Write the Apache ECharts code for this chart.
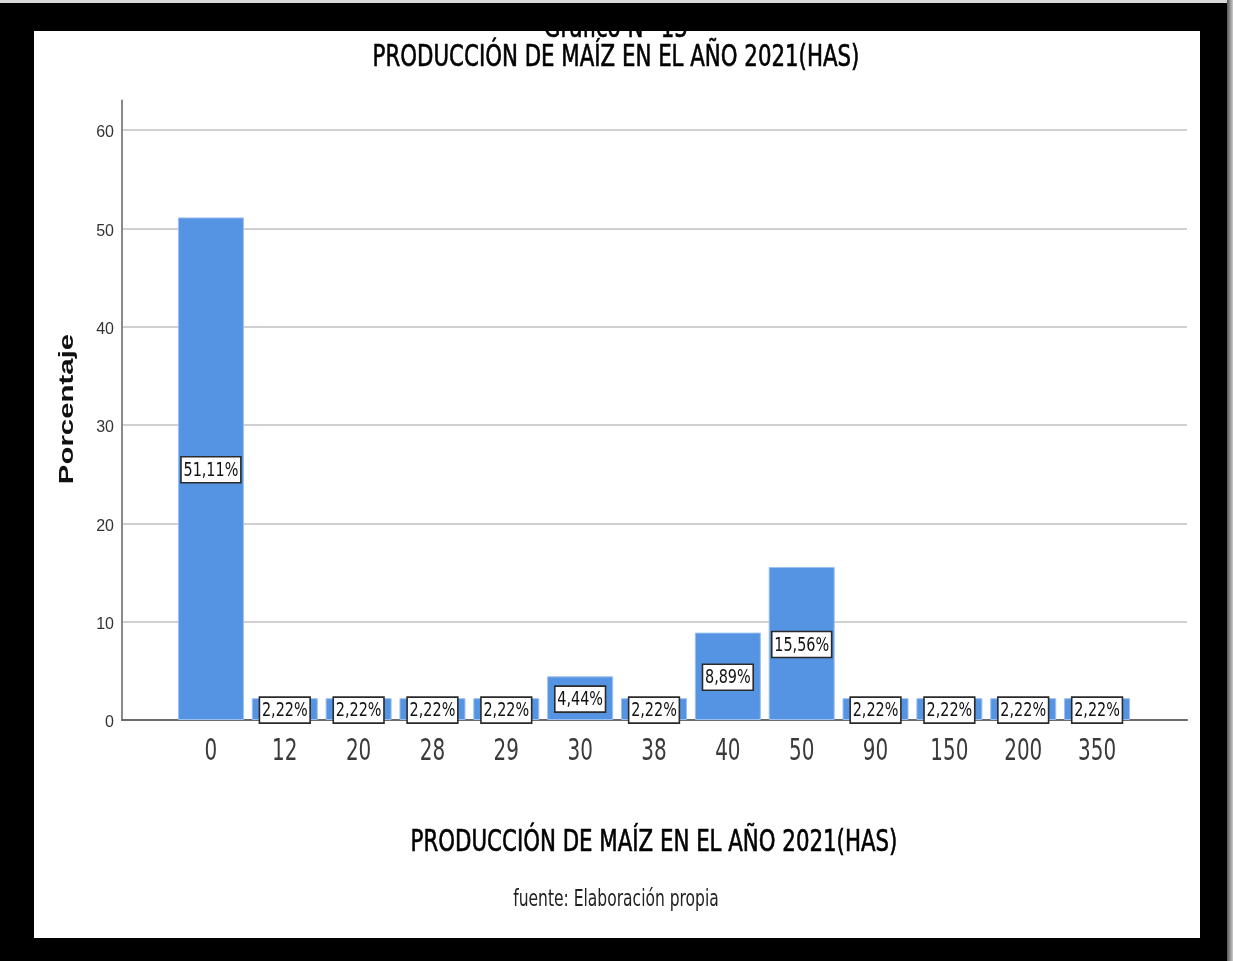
<!DOCTYPE html>
<html>
<head>
<meta charset="utf-8">
<script src="https://cdn.jsdelivr.net/npm/echarts@6/dist/echarts.min.js"></script>
<style>
  html, body { margin: 0; padding: 0; background: #000; width: 1233px; height: 961px; overflow: hidden; }
  #topline { position: absolute; left: 0; top: 0; width: 1233px; height: 3px; background: #d8d8d8; }
  #shade { position: absolute; left: 1227px; top: 0; width: 6px; height: 961px; background: linear-gradient(to right, #555, #ccc); }
  #panel { position: absolute; left: 34px; top: 31px; width: 1166px; height: 907px; background: #fff; }
</style>
</head>
<body>
<div id="topline"></div>
<div id="shade"></div>
<div id="panel"></div>
<script>
// Hectáreas producidas (categorías) y porcentaje de productores
const categories = ['0', '12', '20', '28', '29', '30', '38', '40', '50', '90', '150', '200', '350'];
const percentages = [51.11, 2.22, 2.22, 2.22, 2.22, 4.44, 2.22, 8.89, 15.56, 2.22, 2.22, 2.22, 2.22];
const yTicks = [0, 10, 20, 30, 40, 50, 60];

const chartTitle = 'PRODUCCIÓN DE MAÍZ EN EL AÑO 2021(HAS)';
const chartNumber = 'Gráfico N° 13';
const xTitle = 'PRODUCCIÓN DE MAÍZ EN EL AÑO 2021(HAS)';
const yTitle = 'Porcentaje';
const sourceNote = 'fuente: Elaboración propia';

const COND = '"DejaVu Sans Condensed", "Liberation Sans Narrow", sans-serif';
const BAR = '#5594e2';
const Y_MAX = 63;

// narrow-looking text: a condensed face squeezed horizontally
const NARROW_X = 0.79;

const measureCtx = document.createElement('canvas').getContext('2d');
function textWidth(text, font) {
  measureCtx.font = font;
  return measureCtx.measureText(text).width;
}

const fmt = v => v.toFixed(2).replace('.', ',') + '%';

const chart = echarts.init(document.getElementById('panel'), null, { renderer: 'canvas' });

// category tick labels drawn under each band
function renderCategoryLabel(params, api) {
  const i = api.value(0);
  const p = api.coord([i, 0]);
  return {
    type: 'text', x: p[0], y: p[1] + 32, scaleX: 0.74,
    style: {
      text: categories[i], font: '30px ' + COND, fill: '#3a3a3a',
      textAlign: 'center', textVerticalAlign: 'middle'
    }
  };
}

// boxed percentage label at the middle of each bar
function renderValueLabel(params, api) {
  const i = api.value(0);
  const v = api.value(1);
  const p = api.coord([i, v / 2]);
  const font = '20px ' + COND;
  const sx = 0.8;
  const txt = fmt(v);
  const w = textWidth(txt, font) * sx + 5;
  const h = 26;
  return {
    type: 'group', x: p[0], y: p[1] + 1,
    children: [
      { type: 'rect', shape: { x: -w / 2, y: -h / 2, width: w, height: h },
        style: { fill: '#fff', stroke: '#2a2a2a', lineWidth: 1.6 } },
      { type: 'text', x: 0, y: 1, scaleX: sx,
        style: { text: txt, font: font, fill: '#111', textAlign: 'center', textVerticalAlign: 'middle' } }
    ]
  };
}

chart.setOption({
  animation: false,
  backgroundColor: '#fff',
  grid: [
    // outer frame: value axis, gridlines and the baseline
    { left: 88, right: 13, top: 69.5, bottom: 218, containLabel: false },
    // inner band where the categories sit
    { left: 140, right: 66, top: 69.5, bottom: 218, containLabel: false }
  ],
  xAxis: [
    {
      gridIndex: 0, type: 'category', data: [''],
      axisLine: { show: true, lineStyle: { color: '#6b6b6b', width: 2 } },
      axisTick: { show: false }, axisLabel: { show: false }
    },
    {
      gridIndex: 1, type: 'category', data: categories,
      axisLine: { show: false }, axisTick: { show: false }, axisLabel: { show: false }
    }
  ],
  yAxis: [
    {
      gridIndex: 0, type: 'value', min: 0, max: Y_MAX, interval: 10,
      axisLine: { show: true, lineStyle: { color: '#8a8a8a', width: 2 } },
      axisTick: { show: false },
      axisLabel: {
        color: '#333', fontSize: 16, fontFamily: '"Liberation Sans", Arial, sans-serif', margin: 8,
        verticalAlign: 'top', lineHeight: 6,
        showMaxLabel: false,
        formatter: v => (yTicks.indexOf(v) >= 0 ? String(v) : '')
      },
      splitLine: { show: true, showMaxLine: false, lineStyle: { color: '#d0d0d0', width: 2 } }
    },
    {
      gridIndex: 1, type: 'value', min: 0, max: Y_MAX, interval: 10, show: false,
      splitLine: { show: false }
    }
  ],
  series: [
    {
      type: 'bar',
      xAxisIndex: 1, yAxisIndex: 1,
      data: percentages,
      barWidth: 66,
      itemStyle: { color: BAR, borderColor: '#9cc0f0', borderWidth: 1 }
    },
    {
      type: 'custom',
      xAxisIndex: 1, yAxisIndex: 1,
      data: percentages.map((v, i) => [i, v]),
      renderItem: renderValueLabel,
      z: 5
    },
    {
      type: 'custom',
      xAxisIndex: 1, yAxisIndex: 1,
      data: categories.map((c, i) => [i, 0]),
      renderItem: renderCategoryLabel,
      clip: false,
      z: 5
    }
  ],
  graphic: [
    { type: 'text', x: 582, y: -2, scaleX: NARROW_X,
      style: { text: chartNumber, fill: '#000', font: '30px ' + COND, textAlign: 'center', textVerticalAlign: 'middle', stroke: '#000', lineWidth: 0.6 } },
    { type: 'text', x: 582, y: 27, scaleX: NARROW_X,
      style: { text: chartTitle, fill: '#000', font: '30px ' + COND, textAlign: 'center', textVerticalAlign: 'middle', stroke: '#000', lineWidth: 0.6 } },
    { type: 'text', x: 620, y: 812, scaleX: NARROW_X,
      style: { text: xTitle, fill: '#000', font: '30px ' + COND, textAlign: 'center', textVerticalAlign: 'middle', stroke: '#000', lineWidth: 0.6 } },
    { type: 'text', x: 582, y: 869, scaleX: 0.75,
      style: { text: sourceNote, fill: '#222', font: '23px ' + COND, textAlign: 'center', textVerticalAlign: 'middle' } },
    { type: 'text', x: 33, y: 378, rotation: Math.PI / 2, scaleX: 1.4,
      style: { text: yTitle, fill: '#111', font: 'bold 21px "Liberation Sans", Arial, sans-serif', textAlign: 'center', textVerticalAlign: 'middle' } }
  ]
});
</script>
</body>
</html>
